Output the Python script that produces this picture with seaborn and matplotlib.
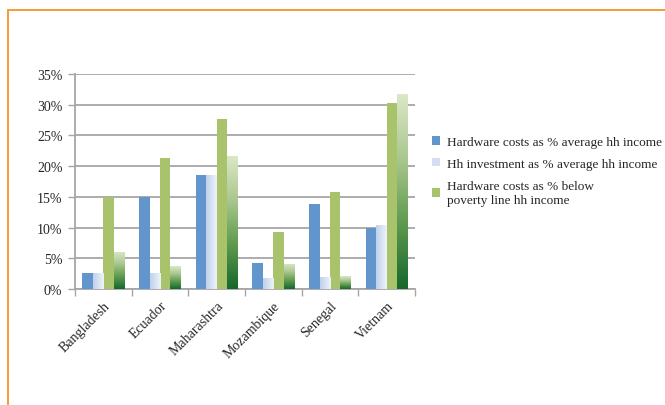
import numpy as np
import pandas as pd
import matplotlib
matplotlib.use("Agg")
import matplotlib.pyplot as plt
from matplotlib.patches import Patch
from matplotlib.lines import Line2D
from matplotlib.colors import LinearSegmentedColormap
import seaborn as sns

# Household sanitation cost burden by country (percent of income)
countries = ["Bangladesh", "Ecuador", "Maharashtra", "Mozambique", "Senegal", "Vietnam"]
hw_avg = [2.6, 15.0, 18.6, 4.2, 13.8, 9.9]
hh_avg = [2.6, 2.6, 18.6, 1.8, 2.0, 10.5]
hw_poor = [15.0, 21.4, 27.7, 9.3, 15.8, 30.2]
hh_poor = [6.1, 3.7, 21.7, 4.1, 2.1, 31.8]
series = [
    "Hardware costs as % average hh income",
    "Hh investment as % average hh income",
    "Hardware costs as % below\npoverty line hh income",
    "Hh investment as % below\npoverty line hh income",
]
y_ticks = [0, 5, 10, 15, 20, 25, 30, 35]

df = pd.DataFrame({
    "country": countries * 4,
    "series": np.repeat(series, len(countries)),
    "value": hw_avg + hh_avg + hw_poor + hh_poor,
})

sns.set_style("white")
plt.rcParams["font.family"] = ["Liberation Serif", "DejaVu Serif"]

blue = "#6295CB"
light_blue = "#D3DFF1"
green = "#A8C36B"
light_green = "#9DC08A"
palette = [blue, light_blue, green, light_green]

fig = plt.figure(figsize=(6.65, 4.06), dpi=100)
ax = fig.add_axes([75 / 665, 1 - 290 / 406, 340 / 665, 215 / 406])

sns.barplot(data=df, x="country", y="value", hue="series", hue_order=series,
            palette=palette, width=0.74, saturation=1, ax=ax, legend=False,
            linewidth=0, zorder=3)

# gradient fills for the two investment-style series
blue_grad = LinearSegmentedColormap.from_list("bg", ["#BFD1EC", "#EEF3FA"])
green_grad = LinearSegmentedColormap.from_list("gg", ["#16682D", "#5E9A4E", "#A9C78E", "#DCE8C8"])

for bar in ax.containers[1]:
    x0, w, h = bar.get_x(), bar.get_width(), bar.get_height()
    grad = np.tile(np.linspace(0, 1, 64), (16, 1))
    bar.set_facecolor("none")
    im = ax.imshow(grad, cmap=blue_grad, extent=[x0, x0 + w, 0, h],
                   aspect="auto", origin="lower", zorder=3, interpolation="bilinear")
    im.set_clip_path(bar)

for bar in ax.containers[3]:
    x0, w, h = bar.get_x(), bar.get_width(), bar.get_height()
    grad = np.linspace(0, 1, 128).reshape(-1, 1)
    bar.set_facecolor("none")
    im = ax.imshow(grad, cmap=green_grad, extent=[x0, x0 + w, 0, h],
                   aspect="auto", origin="lower", zorder=3, interpolation="bilinear")
    im.set_clip_path(bar)

ax.set_xlim(-0.5, len(countries) - 0.5)
ax.set_ylim(0, 35)

ax.set_yticks(y_ticks)
ax.set_yticklabels([f"{t}%" for t in y_ticks], fontsize=10)
ax.yaxis.grid(True, color="#A6A6A6", linewidth=1.3, zorder=0)
ax.set_axisbelow(True)
ax.tick_params(axis="y", left=True, length=5, width=1, color="#A6A6A6", pad=4)

ax.set_xticks(range(len(countries)))
ax.set_xticklabels(countries, fontsize=10, rotation=45, ha="right",
                   va="top", rotation_mode="anchor")
ax.tick_params(axis="x", which="major", length=0, pad=7)
ax.set_xticks(np.arange(-0.5, len(countries)), minor=True)
ax.tick_params(axis="x", which="minor", bottom=True, length=5, width=1, color="#A6A6A6")

ax.set_xlabel("")
ax.set_ylabel("")
for side in ["top", "right"]:
    ax.spines[side].set_visible(False)
for side in ["left", "bottom"]:
    ax.spines[side].set_color("#A6A6A6")
    ax.spines[side].set_linewidth(1.3)

handles = [Patch(facecolor=c, edgecolor="none") for c in palette[:3]]
fig.legend(handles, series[:3], loc="upper left",
           bbox_to_anchor=(432 / 665, 1 - 137 / 406), frameon=False,
           fontsize=9.5, handlelength=0.6, handleheight=0.6,
           handletextpad=0.55, labelspacing=0.75, borderpad=0, borderaxespad=0)

# orange frame edges
orange = "#F59A3C"
fig.add_artist(Line2D([8 / 665, 8 / 665], [0, 1 - 10.5 / 406], color=orange,
                      linewidth=1.4, transform=fig.transFigure))
fig.add_artist(Line2D([8 / 665, 1], [1 - 10.5 / 406, 1 - 10.5 / 406], color=orange,
                      linewidth=1.4, transform=fig.transFigure))

fig.savefig("out.png", dpi=100, facecolor="white")
